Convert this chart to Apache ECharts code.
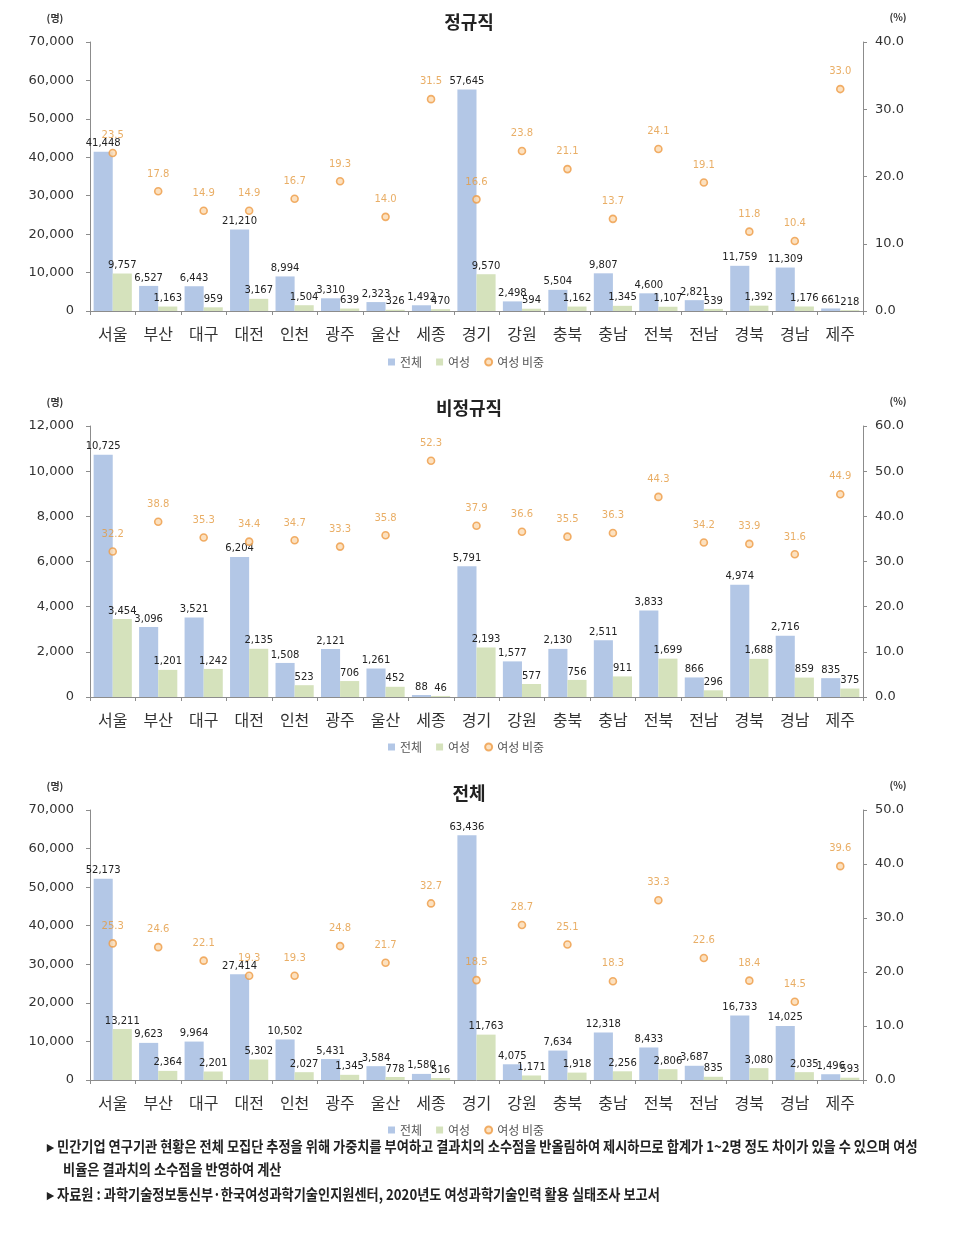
<!DOCTYPE html>
<html>
<head>
<meta charset="utf-8">
<script src="https://cdn.jsdelivr.net/npm/echarts@6/dist/echarts.min.js"></script>
<style>
html,body{margin:0;padding:0;background:#fff;}
#c{width:954px;height:1236px;}
</style>
</head>
<body>
<div id="c"></div>
<script>
const categories = ['서울','부산','대구','대전','인천','광주','울산','세종','경기','강원','충북','충남','전북','전남','경북','경남','제주'];

const regTotal  = [41448, 6527, 6443, 21210, 8994, 3310, 2323, 1492, 57645, 2498, 5504, 9807, 4600, 2821, 11759, 11309, 661];
const regFemale = [9757, 1163, 959, 3167, 1504, 639, 326, 470, 9570, 594, 1162, 1345, 1107, 539, 1392, 1176, 218];
const regRatio  = [23.5, 17.8, 14.9, 14.9, 16.7, 19.3, 14.0, 31.5, 16.6, 23.8, 21.1, 13.7, 24.1, 19.1, 11.8, 10.4, 33.0];

const nonTotal  = [10725, 3096, 3521, 6204, 1508, 2121, 1261, 88, 5791, 1577, 2130, 2511, 3833, 866, 4974, 2716, 835];
const nonFemale = [3454, 1201, 1242, 2135, 523, 706, 452, 46, 2193, 577, 756, 911, 1699, 296, 1688, 859, 375];
const nonRatio  = [32.2, 38.8, 35.3, 34.4, 34.7, 33.3, 35.8, 52.3, 37.9, 36.6, 35.5, 36.3, 44.3, 34.2, 33.9, 31.6, 44.9];

const allTotal  = [52173, 9623, 9964, 27414, 10502, 5431, 3584, 1580, 63436, 4075, 7634, 12318, 8433, 3687, 16733, 14025, 1496];
const allFemale = [13211, 2364, 2201, 5302, 2027, 1345, 778, 516, 11763, 1171, 1918, 2256, 2806, 835, 3080, 2035, 593];
const allRatio  = [25.3, 24.6, 22.1, 19.3, 19.3, 24.8, 21.7, 32.7, 18.5, 28.7, 25.1, 18.3, 33.3, 22.6, 18.4, 14.5, 39.6];

const titles = ['정규직', '비정규직', '전체'];
const leftMax = [70000, 12000, 70000];
const leftInterval = [10000, 2000, 10000];
const rightMax = [40, 60, 50];
const rightInterval = [10, 10, 10];
const seriesNames = ['전체', '여성', '여성 비중'];
const notes = [
  '▸ 민간기업 연구기관 현황은 전체 모집단 추정을 위해 가중치를 부여하고 결과치의 소수점을 반올림하여 제시하므로 합계가 1~2명 정도 차이가 있을 수 있으며 여성',
  '비율은 결과치의 소수점을 반영하여 계산',
  '▸ 자료원 : 과학기술정보통신부·한국여성과학기술인지원센터, 2020년도 여성과학기술인력 활용 실태조사 보고서'
];

const datasets = [
  [regTotal, regFemale, regRatio],
  [nonTotal, nonFemale, nonRatio],
  [allTotal, allFemale, allRatio]
];

const KR = '"Noto Sans CJK KR", "Noto Sans", sans-serif';
const NUM = '"DejaVu Sans", Verdana, sans-serif';
const BLUE = '#b3c7e6';
const GREEN = '#d5e2bc';
const ORANGE = '#ee9b45';
const AXIS = '#8c8c8c';

const gridTops = [42, 426, 810];
const gridHeights = [269, 271, 270];
const legendTops = [351, 736, 1119];
const titleYs = [22, 408, 793];
const unitYs = [18, 402, 786];

const fmtComma = v => Math.round(v).toString().replace(/\B(?=(\d{3})+(?!\d))/g, ',');

const grids = [], xAxes = [], yAxes = [], series = [], legends = [], graphics = [];

for (let i = 0; i < 3; i++) {
  grids.push({ left: 90, width: 773, top: gridTops[i], height: gridHeights[i] });
  xAxes.push({
    type: 'category', gridIndex: i, data: categories,
    axisLine: { lineStyle: { color: AXIS } },
    axisTick: { show: true, length: 4, lineStyle: { color: AXIS } },
    axisLabel: { color: '#333', fontFamily: KR, fontSize: 16, margin: 15 }
  });
  yAxes.push({
    type: 'value', gridIndex: i, position: 'left', min: 0, max: leftMax[i], interval: leftInterval[i],
    splitLine: { show: false },
    axisLine: { show: true, lineStyle: { color: AXIS } },
    axisTick: { show: true, length: 4, lineStyle: { color: AXIS } },
    axisLabel: { color: '#333', fontFamily: NUM, fontSize: 13, margin: 16, formatter: fmtComma }
  });
  yAxes.push({
    type: 'value', gridIndex: i, position: 'right', min: 0, max: rightMax[i], interval: rightInterval[i],
    splitLine: { show: false },
    axisLine: { show: true, lineStyle: { color: AXIS } },
    axisTick: { show: true, length: 4, lineStyle: { color: AXIS } },
    axisLabel: { color: '#333', fontFamily: NUM, fontSize: 13, margin: 12, formatter: v => v.toFixed(1) }
  });
  const d = datasets[i];
  const barLabel = {
    show: true, position: 'top', distance: 3, color: '#222', fontFamily: NUM, fontSize: 10,
    formatter: p => fmtComma(p.value)
  };
  series.push({
    name: seriesNames[0], type: 'bar', xAxisIndex: i, yAxisIndex: i * 2, data: d[0],
    barGap: '0%', barCategoryGap: '16%', itemStyle: { color: BLUE }, label: barLabel
  });
  series.push({
    name: seriesNames[1], type: 'bar', xAxisIndex: i, yAxisIndex: i * 2, data: d[1],
    barGap: '0%', barCategoryGap: '16%', itemStyle: { color: GREEN }, label: barLabel
  });
  series.push({
    name: seriesNames[2], type: 'scatter', xAxisIndex: i, yAxisIndex: i * 2 + 1, data: d[2],
    symbol: 'circle', symbolSize: 7,
    itemStyle: { color: '#fbd9b0', borderColor: ORANGE, borderWidth: 1.6 },
    label: {
      show: true, position: 'top', distance: 8, color: '#e39a40', fontFamily: NUM, fontSize: 10,
      formatter: p => p.value.toFixed(1)
    },
    z: 5
  });
  legends.push({
    top: legendTops[i], left: 383, itemWidth: 7, itemHeight: 7, itemGap: 14,
    textStyle: { color: '#555', fontFamily: KR, fontSize: 12 },
    data: [
      { name: seriesNames[0], icon: 'rect' },
      { name: seriesNames[1], icon: 'rect' },
      { name: seriesNames[2], icon: 'circle' }
    ]
  });
  graphics.push({
    type: 'text', x: 469, y: titleYs[i],
    style: { text: titles[i], fill: '#222', font: 'bold 18px ' + KR, textAlign: 'center', align: 'center', textVerticalAlign: 'middle', verticalAlign: 'middle' }
  });
  graphics.push({
    type: 'text', x: 55, y: unitYs[i],
    style: { text: '(명)', fill: '#333', font: 'bold 10px ' + KR, textAlign: 'center', align: 'center', textVerticalAlign: 'middle', verticalAlign: 'middle' }
  });
  graphics.push({
    type: 'text', x: 898, y: unitYs[i] - 1,
    style: { text: '(%)', fill: '#333', font: 'bold 10px ' + KR, textAlign: 'center', align: 'center', textVerticalAlign: 'middle', verticalAlign: 'middle' }
  });
}

const noteYs = [1146, 1169, 1194];
const noteXs = [47, 63, 47];
for (let k = 0; k < 3; k++) {
  graphics.push({
    type: 'text', x: noteXs[k], y: noteYs[k], scaleX: 0.88,
    style: { text: notes[k], fill: '#222', font: 'bold 15px ' + KR, textAlign: 'left', align: 'left', textVerticalAlign: 'middle', verticalAlign: 'middle' }
  });
}

const chart = echarts.init(document.getElementById('c'), null, { renderer: 'canvas' });
chart.setOption({
  backgroundColor: '#fff',
  animation: false,
  grid: grids,
  xAxis: xAxes,
  yAxis: yAxes,
  legend: legends,
  series: series,
  graphic: graphics
});
</script>
</body>
</html>
